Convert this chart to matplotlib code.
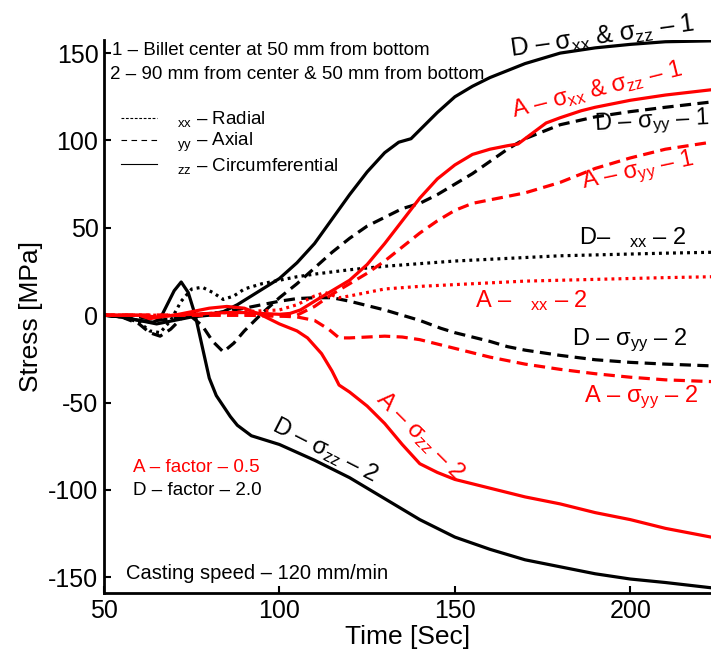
import numpy as np
import matplotlib
matplotlib.use("Agg")
import matplotlib.pyplot as plt
from matplotlib.lines import Line2D

plt.rcParams['font.family'] = ['Liberation Sans', 'DejaVu Sans']
plt.rcParams['mathtext.fontset'] = 'custom'
plt.rcParams['mathtext.rm'] = 'Liberation Sans'
plt.rcParams['mathtext.it'] = 'Liberation Sans'
plt.rcParams['mathtext.bf'] = 'Liberation Sans:bold'
plt.rcParams['axes.unicode_minus'] = False

## Stress histories (time in s, stress in MPa)
# D - factor 2.0, point 1 (billet center)
t_D_xz1 = [50, 55, 60, 65, 70, 75, 80, 84, 88, 92, 96, 100, 105, 110, 115, 120, 125, 130,
           134, 137.5, 140, 145, 150, 155, 160, 170, 180, 190, 200, 210, 223]
s_D_xz1 = [0, -1, -3, -5, -3, -1, 0, 2, 6, 11, 16, 21, 30, 41, 55, 69, 82, 93,
           99, 101, 106, 116, 125, 131, 136, 144, 150, 153, 155, 156.5, 157]
t_D_yy1 = [50, 60, 65, 70, 75, 78, 81, 84, 87, 90, 95, 100, 105, 110, 115, 120, 125, 130,
           135, 140, 145, 150, 155, 160, 165, 170, 175, 180, 190, 200, 210, 223]
s_D_yy1 = [0, -1, -3, -2, -1, -6, -15, -21, -16, -9, 1, 10, 18, 27, 36, 44, 51, 56,
           61, 64, 69, 75, 81, 88, 95, 101, 105, 109, 113.5, 116.5, 119, 122]
# A - factor 0.5, point 1
t_A_xz1 = [50, 60, 65, 70, 75, 80, 85, 90, 95, 100, 103, 106, 110, 115, 120, 125, 130, 135,
           140, 145, 150, 155, 160, 165, 168, 172, 176, 180, 186, 190, 200, 210, 223]
s_A_xz1 = [0, 0, -1, 0, 0.5, 1, 1.5, 1.5, 1, 0.5, 1, 3, 8, 14, 20, 29, 41, 54,
           67, 78, 86, 92, 95, 97, 98, 104, 110, 113, 117, 119, 123, 126, 129]
t_A_yy1 = [50, 70, 90, 100, 105, 110, 115, 120, 125, 130, 135, 140, 145, 150, 155, 160,
           165, 170, 175, 180, 190, 200, 210, 223]
s_A_yy1 = [0, 0, 0, -0.5, 0, 5, 12, 18, 24, 31, 39, 47, 54, 60, 64, 66,
           68, 70, 73, 76, 84, 90, 95, 99]
# D - factor 2.0, point 2
t_D_xx2 = [50, 55, 60, 63, 66, 69, 72, 75, 78, 81, 84, 87, 90, 95, 100, 105, 110, 120,
           130, 140, 150, 160, 170, 180, 190, 200, 210, 223]
s_D_xx2 = [0, -1, -4, -9, -10, -3, 8, 15, 16, 13, 9, 11, 15, 18, 20, 22, 23.5, 26,
           28, 29.5, 31, 32, 33, 34, 34.5, 35, 35.5, 36]
t_D_yy2 = [50, 55, 60, 63, 66, 69, 72, 75, 80, 85, 90, 95, 100, 105, 110, 115, 120, 130,
           140, 146, 150, 160, 165, 170, 180, 190, 200, 210, 223]
s_D_yy2 = [0, -1, -5, -10, -12, -8, -2, 0, 1, 2, 4, 6, 8, 9.5, 10, 10, 8, 3,
           -3, -7.5, -10, -15, -18, -20, -23, -25.5, -27, -28, -29]
t_D_zz2 = [50, 55, 60, 64, 66, 68, 70, 72, 74, 76, 78, 80, 82, 84, 86, 88, 92, 100,
           110, 120, 130, 140, 150, 160, 170, 180, 190, 200, 210, 223]
s_D_zz2 = [0, -1, -3, -4, -2, 6, 14, 19, 13, 0, -18, -36, -46, -52, -58, -63, -69, -74,
           -83, -93, -105, -117, -127, -134, -140, -144, -148, -151, -153, -156]
# A - factor 0.5, point 2
t_A_xx2 = [50, 70, 80, 90, 100, 105, 110, 113, 117, 120, 125, 130, 140, 150, 160, 170,
           180, 190, 200, 210, 223]
s_A_xx2 = [0, 0, 1, 2, 3, 6, 11, 13, 10, 11, 13, 15, 16.5, 17.5, 18.5, 19.5,
           20, 20.5, 21, 21.5, 22]
t_A_yy2 = [50, 70, 90, 100, 105, 110, 114, 117, 120, 125, 130, 135, 140, 146, 150, 160,
           165, 170, 180, 190, 200, 210, 223]
s_A_yy2 = [0, 0, 0, -0.5, -1, -3, -8, -13, -13, -12.5, -12, -12.5, -14, -17, -19, -24,
           -26, -28, -31, -33.5, -35.5, -37, -38]
t_A_zz2 = [50, 60, 63, 66, 70, 75, 80, 85, 90, 95, 100, 105, 108, 112, 115, 117, 120, 125,
           130, 135, 140, 145, 150, 160, 170, 180, 190, 200, 210, 223]
s_A_zz2 = [0, 0, -2, -1, 0, 2, 4, 5, 4, 0, -5, -9, -13, -22, -32, -40, -44, -52,
           -62, -74, -85, -90, -94, -99, -104, -108, -113, -117, -122, -127]

x_ticks = [50, 100, 150, 200]
y_ticks = [-150, -100, -50, 0, 50, 100, 150]

lw = 2.3
dash = (3.5, 2.0)
dot = (0.9, 1.3)

fig = plt.figure(figsize=(7.11, 6.61), dpi=100)
ax = fig.add_axes([104/711, 68/661, 607/711, 553/661])

ax.plot(t_D_xz1, s_D_xz1, color='k', lw=lw)
ax.plot(t_D_yy1, s_D_yy1, color='k', lw=lw, dashes=dash)
ax.plot(t_D_xx2, s_D_xx2, color='k', lw=lw, dashes=dot)
ax.plot(t_D_yy2, s_D_yy2, color='k', lw=lw, dashes=dash)
ax.plot(t_D_zz2, s_D_zz2, color='k', lw=lw)
ax.plot(t_A_xz1, s_A_xz1, color='r', lw=lw)
ax.plot(t_A_yy1, s_A_yy1, color='r', lw=lw, dashes=dash)
ax.plot(t_A_xx2, s_A_xx2, color='r', lw=lw, dashes=dot)
ax.plot(t_A_yy2, s_A_yy2, color='r', lw=lw, dashes=dash)
ax.plot(t_A_zz2, s_A_zz2, color='r', lw=lw)

ax.set_xlim(50, 223)
ax.set_ylim(-159, 157.5)
ax.set_xticks(x_ticks)
ax.set_yticks(y_ticks)
ax.tick_params(direction='in', length=5, width=1.5, labelsize=18, pad=4)
for side in ['top', 'right']:
    ax.spines[side].set_visible(False)
for side in ['left', 'bottom']:
    ax.spines[side].set_linewidth(2)
ax.set_xlabel('Time [Sec]', fontsize=19, labelpad=2)
ax.set_ylabel('Stress [MPa]', fontsize=19, labelpad=4)

# notes
fs = 13.5
ax.text(52.3, 151.7, '1 – Billet center at 50 mm from bottom', fontsize=fs, va='center')
ax.text(51.7, 137.5, '2 – 90 mm from center & 50 mm from bottom', fontsize=fs, va='center')
handles = [Line2D([], [], color='k', lw=0.8, dashes=(2.5, 1.5)),
           Line2D([], [], color='k', lw=0.8, dashes=(5, 4)),
           Line2D([], [], color='k', lw=0.8)]
labels = [r'$_{\rm xx}$ – Radial', r'$_{\rm yy}$ – Axial', r'$_{\rm zz}$ – Circumferential']
ax.legend(handles, labels, loc='upper left', bbox_to_anchor=(0.0, 0.905), frameon=False,
          fontsize=fs, handlelength=1.9, handletextpad=1.1, labelspacing=0.08)
ax.text(58.3, -87, 'A – factor – 0.5', fontsize=fs, color='r', va='center')
ax.text(58.3, -100.2, 'D – factor – 2.0', fontsize=fs, color='k', va='center')
ax.text(56.3, -147.7, 'Casting speed – 120 mm/min', fontsize=14.5, va='center')

# curve labels
cs = 17
kw = dict(fontsize=cs, ha='center', va='center', clip_on=False)
ax.text(192.0, 159, r'D – σ$_{\rm xx}$ & σ$_{\rm zz}$ – 1', color='k', rotation=8,
        **dict(kw, fontsize=18))
ax.text(190.5, 128.8, r'A – σ$_{\rm xx}$ & σ$_{\rm zz}$ – 1', color='r', rotation=14, **kw)
ax.text(206.2, 110.5, r'D – σ$_{\rm yy}$ – 1', color='k', rotation=3, **kw)
ax.text(202.2, 81.9, r'A – σ$_{\rm yy}$ – 1', color='r', rotation=12, **kw)
ax.text(200.8, 44.6, r'D–$\quad{}_{\rm xx}$ – 2', color='k', **kw)
ax.text(171.7, 8.6, r'A –$\quad{}_{\rm xx}$ – 2', color='r', **kw)
ax.text(199.9, -14.3, r'D – σ$_{\rm yy}$ – 2', color='k', **kw)
ax.text(203.0, -47.0, r'A – σ$_{\rm yy}$ – 2', color='r', **kw)
ax.text(140.0, -68.7, r'A – σ$_{\rm zz}$ – 2', color='r', rotation=-45, **kw)
ax.text(113.0, -77.3, r'D – σ$_{\rm zz}$ – 2', color='k', rotation=-27, **kw)

fig.savefig('out.png', dpi=100)
